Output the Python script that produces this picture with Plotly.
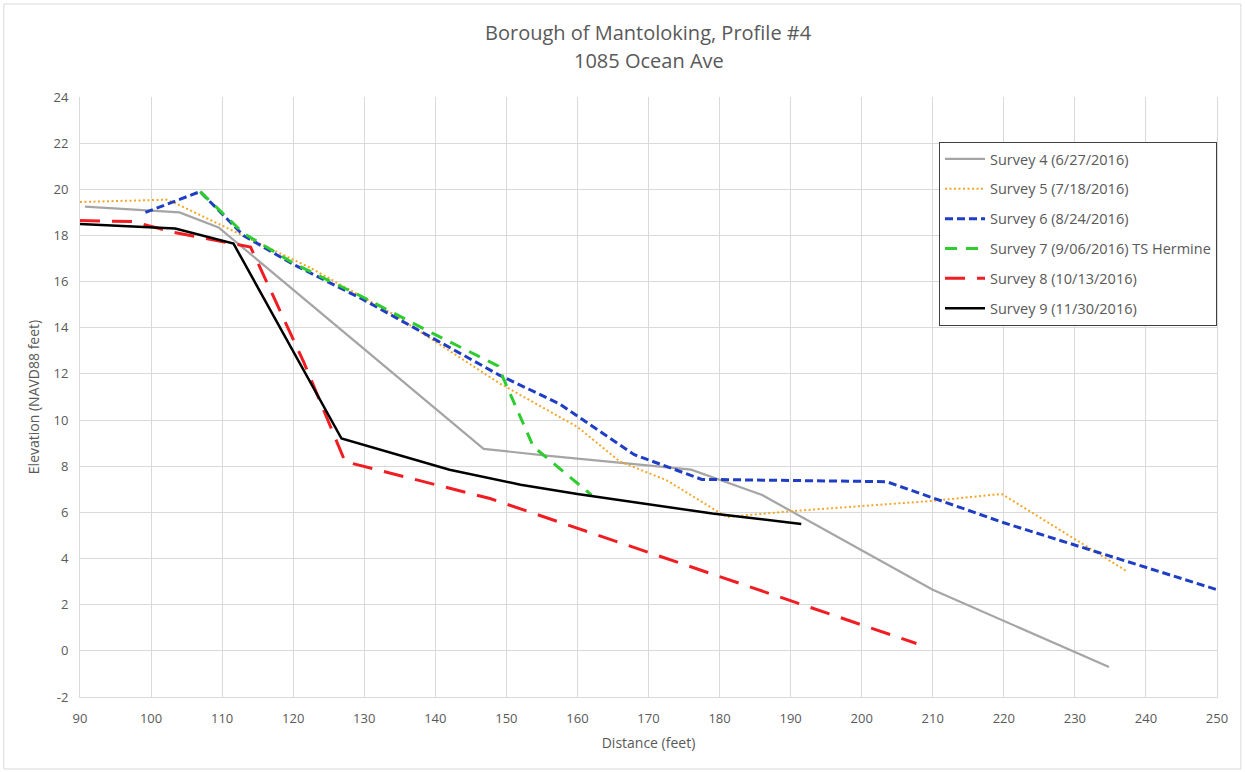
import plotly.graph_objects as go

# ---- data ----
s4_x = [90.7, 104.0, 109.5, 146.8, 156.0, 176.0, 186.0, 210.0, 234.8]
s4_y = [19.25, 19.0, 18.35, 8.75, 8.45, 7.85, 6.75, 2.65, -0.7]

s5_x = [90.0, 102.2, 103.4, 122.4, 134.0, 149.0, 160.0, 166.0, 172.5, 181.0, 190.0, 210.0, 219.7, 237.3]
s5_y = [19.45, 19.55, 19.4, 16.6, 14.6, 11.6, 9.7, 8.2, 7.4, 5.8, 6.05, 6.5, 6.8, 3.45]

s6_x = [99.2, 106.9, 113.0, 120.0, 130.0, 140.0, 149.0, 157.5, 168.0, 177.5, 203.5, 220.0, 250.0]
s6_y = [19.0, 19.9, 18.0, 16.75, 15.2, 13.5, 11.95, 10.7, 8.5, 7.43, 7.33, 5.55, 2.65]

s7_x = [106.9, 113.0, 120.0, 130.0, 140.0, 148.8, 153.8, 162.0]
s7_y = [19.9, 18.1, 16.8, 15.3, 13.7, 12.35, 8.85, 6.75]

s8_x = [90.0, 97.5, 103.0, 114.0, 121.5, 127.3, 147.7, 207.7]
s8_y = [18.65, 18.6, 18.15, 17.5, 12.5, 8.2, 6.6, 0.32]

s9_x = [90.0, 103.4, 111.6, 126.8, 142.0, 152.0, 160.0, 179.0, 191.5]
s9_y = [18.5, 18.3, 17.65, 9.2, 7.85, 7.2, 6.8, 5.95, 5.5]

names = [
    "Survey 4 (6/27/2016)",
    "Survey 5 (7/18/2016)",
    "Survey 6 (8/24/2016)",
    "Survey 7 (9/06/2016) TS Hermine",
    "Survey 8 (10/13/2016)",
    "Survey 9 (11/30/2016)",
]
x_ticks = list(range(90, 251, 10))
y_ticks = list(range(-2, 25, 2))
title_lines = ["Borough of Mantoloking, Profile #4", "1085 Ocean Ave"]

series = [
    (s4_x, s4_y, "#a5a5a5", 2.2, "solid"),
    (s5_x, s5_y, "#f2a72c", 2.0, "2px,2.5px"),
    (s6_x, s6_y, "#1f3ec4", 3.0, "8px,4px"),
    (s7_x, s7_y, "#2ecc2e", 3.0, "12px,9px"),
    (s8_x, s8_y, "#f01e23", 3.0, "20px,12px"),
    (s9_x, s9_y, "#000000", 2.5, "solid"),
]

fig = go.Figure()
for i, (xs, ys, col, w, dash) in enumerate(series):
    fig.add_trace(go.Scatter(
        x=xs, y=ys, mode="lines", name=names[i],
        line=dict(color=col, width=w, dash=dash),
        legendgroup=f"g{i}",
    ))

txt = "#595959"
fig.update_layout(
    width=1245, height=772,
    paper_bgcolor="white", plot_bgcolor="white",
    font=dict(family="Open Sans, Noto Sans, sans-serif", color=txt, size=12),
    margin=dict(l=80, r=28, t=97, b=75),
    xaxis=dict(
        range=[90, 250], tickvals=x_ticks, ticktext=[str(v) for v in x_ticks],
        showgrid=True, gridcolor="#d9d9d9", gridwidth=1,
        zeroline=False, showline=True, linecolor="#d9d9d9",
        ticks="outside", ticklen=9, tickcolor="rgba(0,0,0,0)",
        tickfont=dict(size=13, color=txt),
        title=dict(text="Distance (feet)", font=dict(size=14, color=txt), standoff=12),
    ),
    yaxis=dict(
        range=[-2, 24], tickvals=y_ticks, ticktext=[str(v) for v in y_ticks],
        showgrid=True, gridcolor="#d9d9d9", gridwidth=1,
        zeroline=False, showline=True, linecolor="#d9d9d9", mirror=True,
        ticks="outside", ticklen=8, tickcolor="rgba(0,0,0,0)",
        tickfont=dict(size=13, color=txt),
        title=dict(text="Elevation (NAVD88 feet)", font=dict(size=14, color=txt), standoff=10),
    ),
    legend=dict(
        x=1.0, xanchor="right", y=0.925, yanchor="top",
        bgcolor="white", bordercolor="#404040", borderwidth=1,
        font=dict(size=14.5, color=txt),
        traceorder="grouped", tracegroupgap=8,
        itemwidth=40,
    ),
    showlegend=True,
)

fig.add_annotation(text=title_lines[0], xref="paper", yref="paper", x=0.5,
                   y=(697 - 33) / 600,
                   xanchor="center", yanchor="middle", showarrow=False,
                   font=dict(size=20, color=txt))
fig.add_annotation(text=title_lines[1], xref="paper", yref="paper", x=0.5,
                   y=(697 - 61) / 600,
                   xanchor="center", yanchor="middle", showarrow=False,
                   font=dict(size=20, color=txt))

fig.add_shape(type="rect", xref="paper", yref="paper",
              x0=-0.067, x1=1.021, y0=-0.12, y1=1.155,
              line=dict(color="#d9d9d9", width=1), layer="below")

fig.write_html("out.html")
